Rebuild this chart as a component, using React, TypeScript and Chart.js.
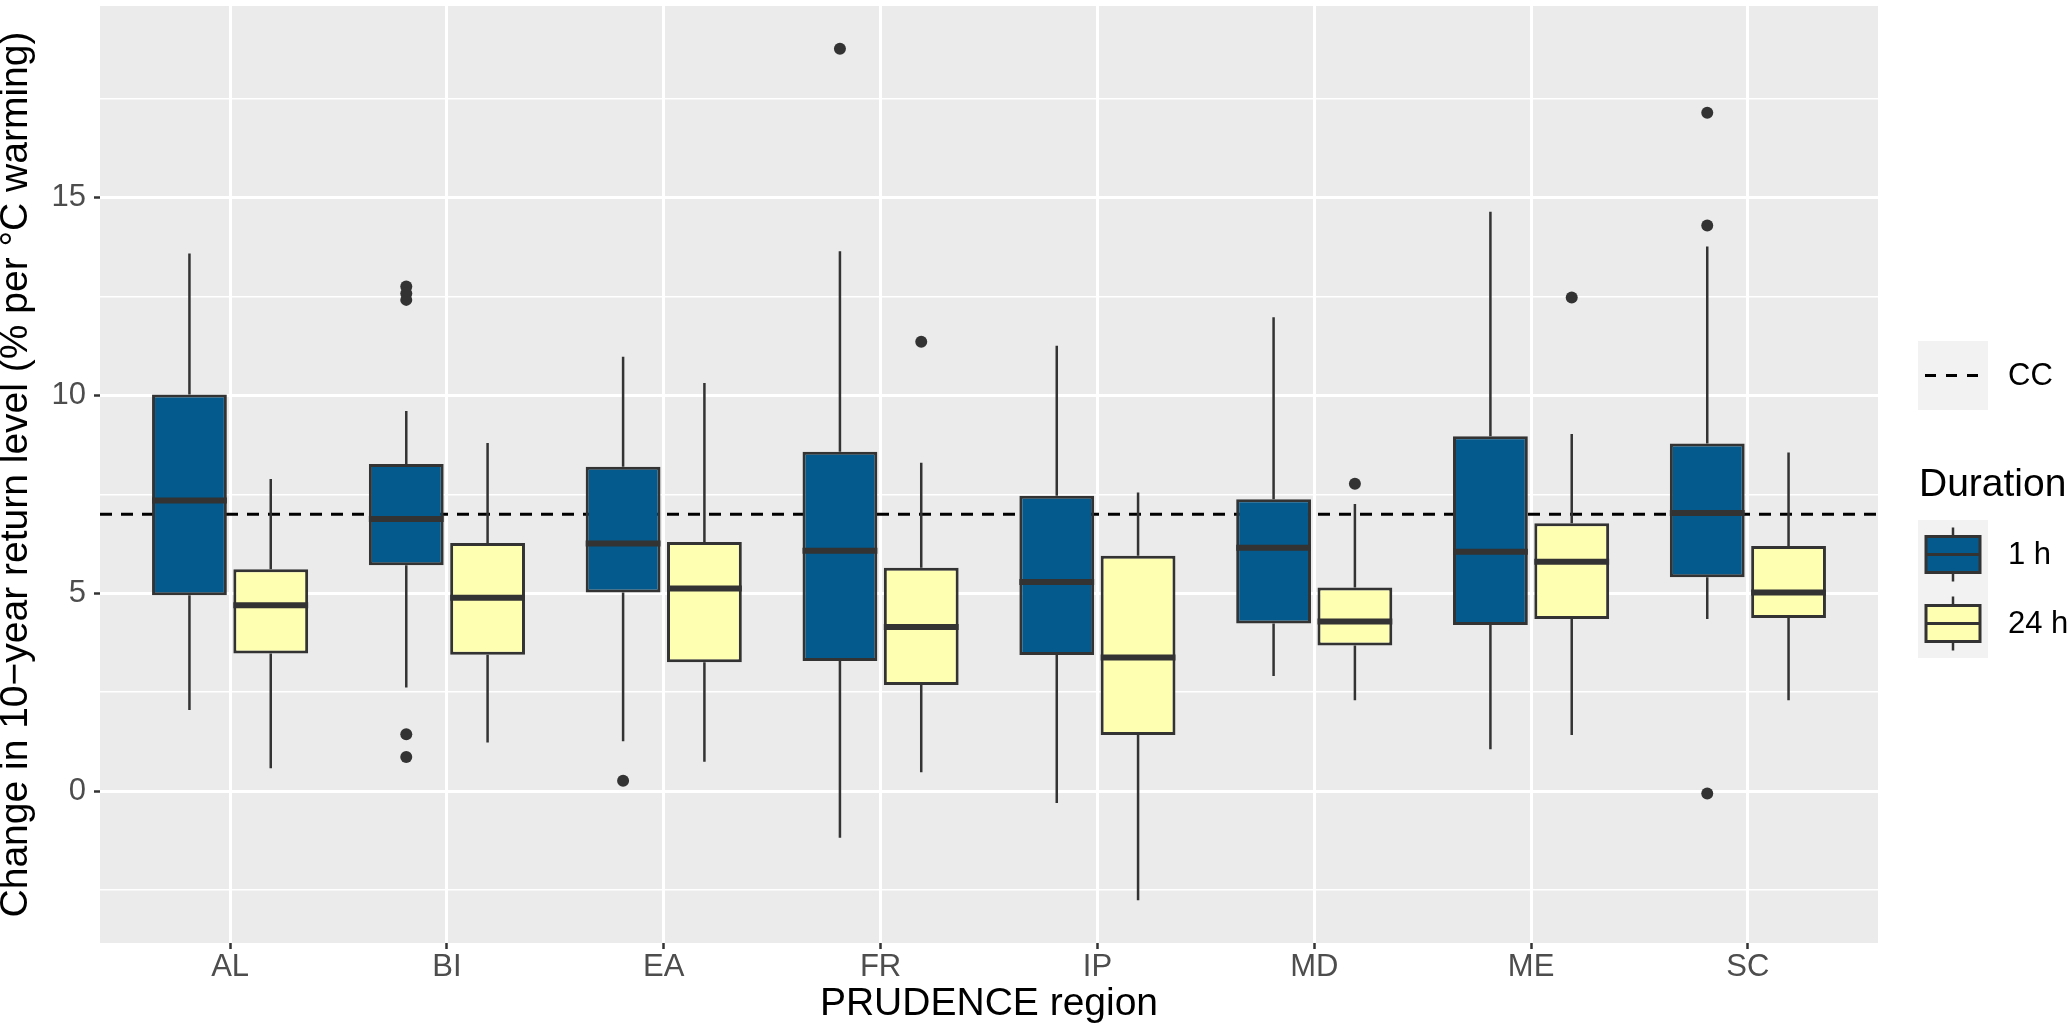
import React, { useEffect, useRef } from 'react';
import { Chart, registerables } from 'chart.js';

Chart.register(...registerables);

// ---------- data ----------
const CATEGORIES = ['AL', 'BI', 'EA', 'FR', 'IP', 'MD', 'ME', 'SC'];
const SERIES = ['1 h', '24 h'];

// 1 h duration
const LOWER_1H = [2.05, 2.62, 1.26, -1.18, -0.3, 2.91, 1.06, 4.35];
const Q1_1H = [4.95, 5.71, 5.02, 3.29, 3.44, 4.24, 4.2, 5.41];
const MEDIAN_1H = [7.35, 6.88, 6.26, 6.08, 5.29, 6.15, 6.05, 7.03];
const Q3_1H = [10.03, 8.27, 8.2, 8.58, 7.47, 7.38, 8.97, 8.79];
const UPPER_1H = [13.59, 9.61, 10.98, 13.65, 11.26, 11.98, 14.65, 13.77];
const OUTLIERS_1H = [[], [12.76, 12.58, 12.42, 1.44, 0.86], [0.26], [18.77], [], [], [], [17.15, 14.3, -0.06]];

// 24 h duration
const LOWER_24H = [0.58, 1.23, 0.74, 0.48, -2.76, 2.3, 1.42, 2.3];
const Q1_24H = [3.48, 3.45, 3.26, 2.68, 1.42, 3.68, 4.35, 4.38];
const MEDIAN_24H = [4.7, 4.89, 5.12, 4.15, 3.38, 4.29, 5.8, 5.02];
const Q3_24H = [5.61, 6.27, 6.3, 5.65, 5.95, 5.15, 6.77, 6.2];
const UPPER_24H = [7.89, 8.8, 10.32, 8.3, 7.55, 7.26, 9.03, 8.56];
const OUTLIERS_24H = [[], [], [], [11.36], [], [7.77], [12.48], []];

const CC_VALUE = 7;
const Y_MAJOR = [0, 5, 10, 15];
const Y_MINOR = [-2.5, 2.5, 7.5, 12.5, 17.5];
const Y_MIN = -3.84;
const Y_MAX = 19.85;
const X_MIN = 0.4;
const X_MAX = 8.6;

// ---------- styles ----------
const FONT = "'Liberation Sans', Arial, Helvetica, sans-serif";
const COLORS = ['#045A8D', '#FFFFB2'];
const OUTLINE = '#333333';
const PANEL_BG = '#EBEBEB';
const KEY_BG = '#F2F2F2';
const DODGE = 0.75 / 4;

const STATS = [
  { lower: LOWER_1H, q1: Q1_1H, median: MEDIAN_1H, q3: Q3_1H, upper: UPPER_1H },
  { lower: LOWER_24H, q1: Q1_24H, median: MEDIAN_24H, q3: Q3_24H, upper: UPPER_24H },
];

const boxData = (q1: number[], q3: number[]) =>
  CATEGORIES.map((_, i) => ({ x: i + 1, y: [q1[i], q3[i]] }));
const outlierData = (outs: number[][], offset: number) =>
  outs.flatMap((vals, i) => vals.map((v) => ({ x: i + 1 + offset, y: v })));

const panelPlugin = {
  id: 'panelBg',
  beforeDraw(chart: any) {
    const { ctx, chartArea: a } = chart;
    ctx.save();
    ctx.fillStyle = '#FFFFFF';
    ctx.fillRect(0, 0, chart.width, chart.height);
    ctx.fillStyle = PANEL_BG;
    ctx.fillRect(a.left, a.top, a.right - a.left, a.bottom - a.top);
    ctx.restore();
  },
};

const boxPlugin = {
  id: 'boxExtras',
  beforeDatasetsDraw(chart: any) {
    const { ctx, chartArea: a } = chart;
    const y = chart.scales.y;
    ctx.save();
    ctx.beginPath();
    ctx.rect(a.left, a.top, a.right - a.left, a.bottom - a.top);
    ctx.clip();
    // CC reference line
    const py = y.getPixelForValue(CC_VALUE);
    ctx.beginPath();
    ctx.setLineDash([12, 9]);
    ctx.lineWidth = 3;
    ctx.strokeStyle = '#000000';
    ctx.moveTo(a.left, py);
    ctx.lineTo(a.right, py);
    ctx.stroke();
    ctx.setLineDash([]);
    // whiskers
    ctx.lineWidth = 2.5;
    ctx.strokeStyle = OUTLINE;
    STATS.forEach((s, di) => {
      const meta = chart.getDatasetMeta(di);
      meta.data.forEach((bar: any, i: number) => {
        ctx.beginPath();
        ctx.moveTo(bar.x, y.getPixelForValue(s.upper[i]));
        ctx.lineTo(bar.x, y.getPixelForValue(s.q3[i]));
        ctx.moveTo(bar.x, y.getPixelForValue(s.q1[i]));
        ctx.lineTo(bar.x, y.getPixelForValue(s.lower[i]));
        ctx.stroke();
      });
    });
    ctx.restore();
  },
  afterDatasetDraw(chart: any, args: any) {
    if (args.index >= STATS.length) return;
    const { ctx } = chart;
    const y = chart.scales.y;
    const s = STATS[args.index];
    ctx.save();
    ctx.lineWidth = 6;
    ctx.strokeStyle = OUTLINE;
    args.meta.data.forEach((bar: any, i: number) => {
      const py = y.getPixelForValue(s.median[i]);
      ctx.beginPath();
      ctx.moveTo(bar.x - bar.width / 2, py);
      ctx.lineTo(bar.x + bar.width / 2, py);
      ctx.stroke();
    });
    ctx.restore();
  },
};

const legendPlugin = {
  id: 'ggLegend',
  afterDraw(chart: any) {
    const { ctx } = chart;
    const x0 = chart.chartArea.right + 40;
    const keyW = 70;
    const keyH = 69;
    ctx.save();
    // CC key
    const ccTop = 341;
    ctx.fillStyle = KEY_BG;
    ctx.fillRect(x0, ccTop, keyW, keyH);
    ctx.beginPath();
    ctx.setLineDash([11, 10]);
    ctx.lineWidth = 3;
    ctx.strokeStyle = '#000000';
    ctx.moveTo(x0 + 7, ccTop + keyH / 2);
    ctx.lineTo(x0 + keyW - 7, ccTop + keyH / 2);
    ctx.stroke();
    ctx.setLineDash([]);
    ctx.fillStyle = '#000000';
    ctx.font = `31px ${FONT}`;
    ctx.textBaseline = 'middle';
    ctx.textAlign = 'left';
    ctx.fillText('CC', x0 + keyW + 20, ccTop + keyH / 2 + 1);

    // Duration title
    ctx.font = `39px ${FONT}`;
    ctx.textBaseline = 'alphabetic';
    ctx.fillText('Duration', x0 + 1, 496);

    // Duration keys
    const kTop = 520;
    ctx.fillStyle = KEY_BG;
    ctx.fillRect(x0, kTop, keyW, keyH * 2);
    SERIES.forEach((name, k) => {
      const cy = kTop + keyH * k + keyH / 2;
      const cx = x0 + keyW / 2;
      ctx.strokeStyle = OUTLINE;
      ctx.lineWidth = 2.5;
      ctx.beginPath();
      ctx.moveTo(cx, cy - 27);
      ctx.lineTo(cx, cy + 27);
      ctx.stroke();
      ctx.fillStyle = COLORS[k];
      ctx.fillRect(x0 + 8, cy - 18, keyW - 16, 36);
      ctx.lineWidth = 3;
      ctx.strokeRect(x0 + 8, cy - 18, keyW - 16, 36);
      ctx.beginPath();
      ctx.moveTo(x0 + 8, cy);
      ctx.lineTo(x0 + keyW - 8, cy);
      ctx.stroke();
      ctx.fillStyle = '#000000';
      ctx.font = `31px ${FONT}`;
      ctx.textBaseline = 'middle';
      ctx.fillText(name, x0 + keyW + 20, cy + 1);
    });
    ctx.restore();
  },
};

export default function App() {
  const ref = useRef<HTMLCanvasElement>(null);
  useEffect(() => {
    document.body.style.margin = '0';
    document.body.style.overflow = 'hidden';
    const isMajor = (v: number) => Y_MAJOR.includes(v);
    const chart = new Chart(ref.current as HTMLCanvasElement, {
      type: 'bar',
      data: {
        datasets: [
          {
            type: 'bar',
            label: SERIES[0],
            data: boxData(Q1_1H, Q3_1H) as any,
            backgroundColor: COLORS[0],
            borderColor: OUTLINE,
            borderWidth: 3,
            borderSkipped: false,
            categoryPercentage: 0.75,
            barPercentage: 0.92,
            order: 2,
          },
          {
            type: 'bar',
            label: SERIES[1],
            data: boxData(Q1_24H, Q3_24H) as any,
            backgroundColor: COLORS[1],
            borderColor: OUTLINE,
            borderWidth: 3,
            borderSkipped: false,
            categoryPercentage: 0.75,
            barPercentage: 0.92,
            order: 2,
          },
          {
            type: 'scatter',
            label: SERIES[0] + ' outliers',
            data: outlierData(OUTLIERS_1H, -DODGE) as any,
            pointRadius: 6,
            pointBackgroundColor: OUTLINE,
            pointBorderWidth: 0,
            order: 1,
          } as any,
          {
            type: 'scatter',
            label: SERIES[1] + ' outliers',
            data: outlierData(OUTLIERS_24H, DODGE) as any,
            pointRadius: 6,
            pointBackgroundColor: OUTLINE,
            pointBorderWidth: 0,
            order: 1,
          } as any,
        ],
      },
      options: {
        animation: false,
        responsive: false,
        devicePixelRatio: 1,
        events: [],
        layout: { padding: { left: 0, right: 189, top: 0, bottom: 0 } },
        plugins: { legend: { display: false }, tooltip: { enabled: false } },
        scales: {
          x: {
            type: 'linear',
            min: X_MIN,
            max: X_MAX,
            offset: false,
            border: { display: false },
            grid: {
              offset: false,
              color: '#FFFFFF',
              lineWidth: 3,
              tickColor: OUTLINE,
              tickWidth: 2.5,
              tickLength: 6,
            },
            afterBuildTicks: (scale: any) => {
              scale.ticks = CATEGORIES.map((_, i) => ({ value: i + 1 }));
            },
            afterFit: (scale: any) => {
              scale.height = 85;
              scale.paddingLeft = 0;
              scale.paddingRight = 0;
            },
            ticks: {
              autoSkip: false,
              maxRotation: 0,
              padding: 0,
              color: '#4D4D4D',
              font: { family: FONT, size: 31 },
              callback: (v: any) => CATEGORIES[Math.round(Number(v)) - 1] ?? '',
            },
            title: {
              display: true,
              text: 'PRUDENCE region',
              color: '#000000',
              font: { family: FONT, size: 39 },
              padding: 0,
            },
          },
          y: {
            type: 'linear',
            min: Y_MIN,
            max: Y_MAX,
            beginAtZero: false,
            border: { display: false },
            grid: {
              color: '#FFFFFF',
              lineWidth: (c: any) => (isMajor(c.tick?.value) ? 3 : 1.5),
              tickColor: (c: any) => (isMajor(c.tick?.value) ? OUTLINE : 'rgba(0,0,0,0)'),
              tickWidth: 2.5,
              tickLength: 6,
            },
            afterBuildTicks: (scale: any) => {
              scale.ticks = [...Y_MINOR, ...Y_MAJOR].sort((a, b) => a - b).map((v) => ({ value: v }));
            },
            afterFit: (scale: any) => {
              scale.width = 100;
              scale.paddingTop = 0;
              scale.paddingBottom = 0;
            },
            ticks: {
              autoSkip: false,
              padding: 8,
              color: '#4D4D4D',
              font: { family: FONT, size: 31 },
              callback: (v: any) => (isMajor(Number(v)) ? String(v) : ''),
            },
            title: {
              display: true,
              text: 'Change in 10\u2212year return level (% per \u00B0C warming)',
              color: '#000000',
              font: { family: FONT, size: 39, lineHeight: 0.85 },
              padding: 0,
            },
          },
        },
      } as any,
      plugins: [panelPlugin, boxPlugin, legendPlugin],
    });
    return () => chart.destroy();
  }, []);
  return (
    <div style={{ width: 2067, height: 1028 }}>
      <canvas ref={ref} width={2067} height={1028} style={{ display: 'block', width: 2067, height: 1028 }} />
    </div>
  );
}
